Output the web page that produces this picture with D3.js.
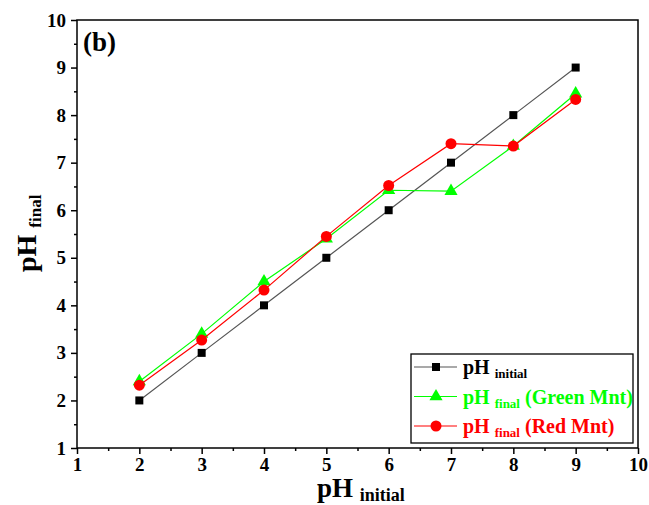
<!DOCTYPE html>
<html>
<head>
<meta charset="utf-8">
<script src="https://cdn.jsdelivr.net/npm/d3@7"></script>
<style>
  body { margin: 0; background: #fff; }
  text { font-family: "Liberation Serif", "Times New Roman", serif; font-weight: bold; }
</style>
</head>
<body>
<svg id="chart" width="649" height="505"></svg>
<script>
// data
const phInitial = [2, 3, 4, 5, 6, 7, 8, 9];
const phBase = [2, 3, 4, 5, 6, 7, 8, 9];
const phGreen = [2.4, 3.4, 4.5, 5.4, 6.42, 6.4, 7.35, 8.45];
const phRed = [2.32, 3.27, 4.32, 5.45, 6.52, 7.4, 7.35, 8.33];
const tickValues = [1, 2, 3, 4, 5, 6, 7, 8, 9, 10];

const svg = d3.select('#chart');
const plotLeft = 77, plotRight = 638, plotTop = 20, plotBottom = 448;

const x = d3.scaleLinear().domain([1, 10]).range([plotLeft, plotRight]);
const y = d3.scaleLinear().domain([1, 10]).range([plotBottom, plotTop]);

// frame
svg.append('rect').attr('x', plotLeft).attr('y', plotTop)
  .attr('width', plotRight - plotLeft).attr('height', plotBottom - plotTop)
  .attr('fill', 'none').attr('stroke', '#000').attr('stroke-width', 1.5);

// axes
const minor = d3.range(1.5, 10, 1);
const xAxis = svg.append('g').attr('transform', 'translate(0,' + plotBottom + ')');
xAxis.call(d3.axisBottom(x).tickValues(tickValues).tickSize(6).tickPadding(4).tickFormat(d3.format('d')));
xAxis.append('g').call(d3.axisBottom(x).tickValues(minor).tickSize(3).tickFormat(''));
const yAxis = svg.append('g').attr('transform', 'translate(' + plotLeft + ',0)');
yAxis.call(d3.axisLeft(y).tickValues(tickValues).tickSize(6).tickPadding(5).tickFormat(d3.format('d')));
yAxis.append('g').call(d3.axisLeft(y).tickValues(minor).tickSize(3).tickFormat(''));
svg.selectAll('.domain').remove();
svg.selectAll('.tick line').attr('stroke', '#000').attr('stroke-width', 1.5);
svg.selectAll('.tick text').attr('fill', '#000').style('font-size', '19px')
  .style('font-family', '"Liberation Serif", serif').style('font-weight', 'bold');

// axis titles
const xt = svg.append('text').attr('x', 317).attr('y', 497).style('font-size', '27px');
xt.append('tspan').text('pH ');
xt.append('tspan').attr('dy', 4).style('font-size', '18px').text('initial');

const yt = svg.append('text').attr('transform', 'translate(36,' + 272 + ') rotate(-90)')
  .style('font-size', '28px');
yt.append('tspan').text('pH ');
yt.append('tspan').attr('dy', 5).style('font-size', '17px').text('final');

svg.append('text').attr('x', 83).attr('y', 51).style('font-size', '27px').text('(b)');

// series
const series = [
  { name: 'initial', extra: '', values: phBase, line: '#555', fill: '#000', shape: d3.symbolSquare, size: 64 },
  { name: 'final', extra: ' (Green Mnt)', values: phGreen, line: '#00ff00', fill: '#00ff00', shape: d3.symbolTriangle, size: 75 },
  { name: 'final', extra: ' (Red Mnt)', values: phRed, line: '#ff0000', fill: '#ff0000', shape: d3.symbolCircle, size: 95 }
];

const line = d3.line().x((d, i) => x(phInitial[i])).y(d => y(d));

series.forEach(s => {
  svg.append('path').datum(s.values).attr('d', line)
    .attr('fill', 'none').attr('stroke', s.line).attr('stroke-width', 1.2);
  svg.selectAll(null).data(s.values).enter().append('path')
    .attr('d', d3.symbol().type(s.shape).size(s.size))
    .attr('transform', (d, i) => 'translate(' + x(phInitial[i]) + ',' + y(d) + ')')
    .attr('fill', s.fill);
});

// legend
const lg = svg.append('g').attr('transform', 'translate(411,354)');
lg.append('rect').attr('width', 222).attr('height', 89)
  .attr('fill', '#fff').attr('stroke', '#000').attr('stroke-width', 1.3);
series.forEach((s, i) => {
  const ly = 13 + i * 29.5;
  lg.append('line').attr('x1', 3).attr('x2', 46).attr('y1', ly).attr('y2', ly)
    .attr('stroke', s.line).attr('stroke-width', 1.2);
  lg.append('path').attr('d', d3.symbol().type(s.shape).size(s.size))
    .attr('transform', 'translate(25,' + ly + ')').attr('fill', s.fill);
  const t = lg.append('text').attr('x', 52).attr('y', ly + 7).attr('fill', s.fill)
    .style('font-size', '20px');
  t.append('tspan').text('pH ');
  t.append('tspan').attr('dy', 4).style('font-size', '13px').text(s.name);
  t.append('tspan').attr('dy', -4).text(s.extra);
});
</script>
</body>
</html>
